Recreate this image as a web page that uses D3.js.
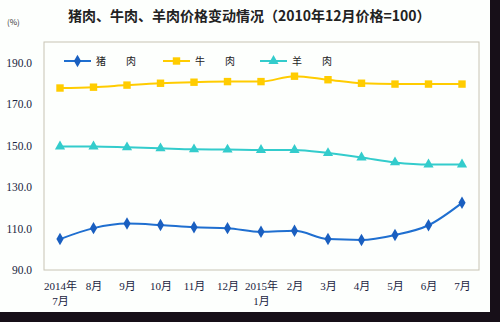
<!DOCTYPE html>
<html><head><meta charset="utf-8">
<script src="https://cdn.jsdelivr.net/npm/d3@7/dist/d3.min.js"></script>
<style>body{margin:0;background:#fff}svg{display:block}</style>
</head><body><svg id="c" width="500" height="322"></svg>
<script>
const months = ["2014年|7月","8月","9月","10月","11月","12月","2015年|1月","2月","3月","4月","5月","6月","7月"];
const pork   = [104.9,110.2,112.4,111.7,110.6,110.2,108.4,108.9,104.9,104.5,106.9,111.6,122.4];
const beef   = [177.8,178.2,179.2,180.1,180.6,180.9,180.9,183.5,181.8,180.1,179.7,179.7,179.7];
const mutton = [149.6,149.6,149.2,148.7,148.2,148.1,147.9,147.9,146.4,144.3,141.9,140.9,140.9];
const yTicks = [90,110,130,150,170,190];
const seriesNames = ["猪　　肉","牛　　肉","羊　　肉"];

const svg = d3.select("#c");
svg.append("rect").attr("width",500).attr("height",322).attr("fill","#fdfffd");
svg.append("rect").attr("x",490).attr("y",0).attr("width",10).attr("height",322).attr("fill","#170f18");
svg.append("rect").attr("x",0).attr("y",312).attr("width",500).attr("height",10).attr("fill","#170f18");

const L=44,R=479,T=42,B=270;
const x = d3.scalePoint().domain(d3.range(months.length)).range([60,462]);
const y = d3.scaleLinear().domain([90,200]).range([B,T]);

svg.append("rect").attr("x",L).attr("y",T).attr("width",R-L).attr("height",B-T)
  .attr("fill","#fdfffd").attr("stroke","#c8c4b4").attr("stroke-width",1);

svg.append("text").attr("x",68).attr("y",21).attr("font-family","Noto Sans CJK SC")
  .attr("font-size",14).attr("font-weight","bold").attr("fill","#222")
  .text("猪肉、牛肉、羊肉价格变动情况（2010年12月价格=100）");
svg.append("text").attr("x",7).attr("y",25).attr("font-family","Noto Sans CJK SC")
  .attr("font-size",8).attr("fill","#333").text("(%)");

// y axis labels
const ya = d3.axisLeft(y).tickValues(yTicks).tickFormat(d3.format(".1f")).tickSize(0).tickPadding(0);
const yg = svg.append("g").attr("transform","translate(32,0)").call(ya);
yg.select(".domain").remove();
yg.selectAll("text").attr("font-family","Liberation Serif").attr("font-size",11.5).attr("fill","#1a2440");

// x axis labels
const xa = d3.axisBottom(x).tickSize(0).tickFormat(()=>"");
const xg = svg.append("g").attr("transform",`translate(0,${B})`).call(xa);
xg.select(".domain").remove();
xg.selectAll(".tick").each(function(d){
  const parts = months[d].split("|");
  const t = d3.select(this).append("text").attr("text-anchor","middle")
    .attr("font-family","Liberation Serif, Noto Sans CJK SC").attr("font-size",11).attr("fill","#1a2440");
  parts.forEach((p,i)=>t.append("tspan").attr("x",0).attr("y",20+i*15).text(p));
});

const series = [
  {vals:pork, color:"#1f6fd0", mark:"diamond", mcolor:"#1a5fc0"},
  {vals:beef, color:"#ffcc00", mark:"square", mcolor:"#ffcc00"},
  {vals:mutton, color:"#33cccc", mark:"triangle", mcolor:"#33cccc"}
];
const symType = {diamond:d3.symbolDiamond, square:d3.symbolSquare, triangle:d3.symbolTriangle};
const symSize = {diamond:45, square:55, triangle:45};
const line = d3.line().x((d,i)=>x(i)).y(d=>y(d)).curve(d3.curveMonotoneX);

series.forEach(s=>{
  svg.append("path").attr("d",line(s.vals)).attr("fill","none").attr("stroke",s.color).attr("stroke-width",2);
  svg.selectAll(null).data(s.vals).enter().append("path")
    .attr("transform",(d,i)=>`translate(${x(i)},${y(d)})`)
    .attr("d",d3.symbol().type(symType[s.mark]).size(symSize[s.mark]))
    .attr("fill",s.mcolor);
});

// legend
const legX = [64,163,260];
series.forEach((s,i)=>{
  const g = svg.append("g").attr("transform",`translate(${legX[i]},61)`);
  g.append("line").attr("x1",0).attr("x2",27).attr("stroke",s.color).attr("stroke-width",2);
  g.append("path").attr("transform","translate(13.5,0)")
    .attr("d",d3.symbol().type(symType[s.mark]).size(symSize[s.mark])).attr("fill",s.mcolor);
  g.append("text").attr("x",32).attr("y",4).attr("font-family","Noto Sans CJK SC")
    .attr("font-size",10).attr("fill","#222").text(seriesNames[i]);
});
</script></body></html>
